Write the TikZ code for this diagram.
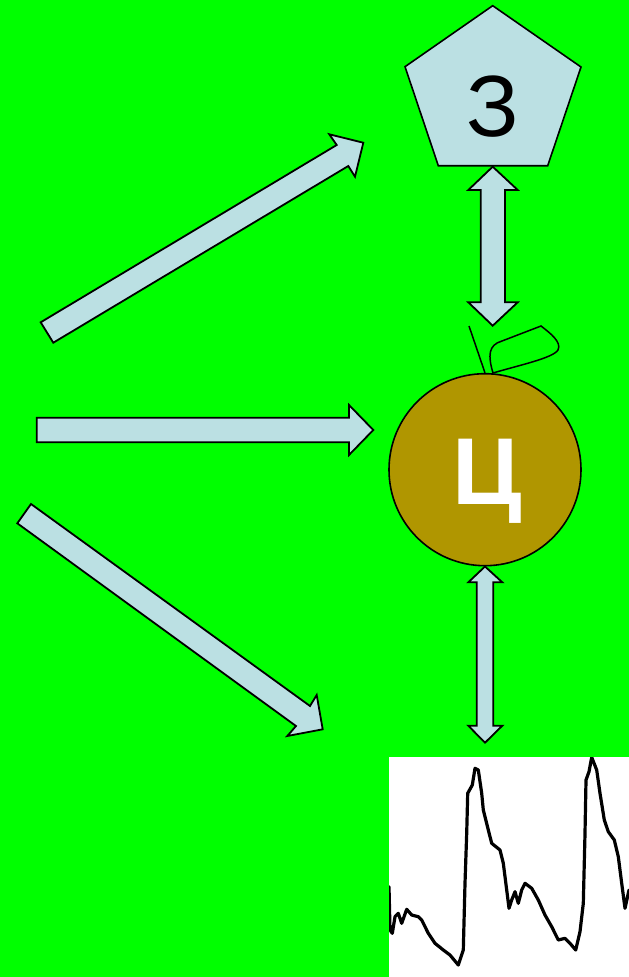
\documentclass[tikz,border=0pt]{standalone}
\usepackage{fontspec}
\setmainfont{Liberation Sans}
\usetikzlibrary{shapes.geometric}
\definecolor{bggreen}{RGB}{0,255,0}
\definecolor{arrowblue}{RGB}{187,224,227}
\definecolor{applegold}{RGB}{176,150,0}
\begin{document}
\begin{tikzpicture}[x=1pt,y=-1pt,
  blockarrow/.style={fill=arrowblue,draw=black,line width=1.8pt,line join=miter},
  outline/.style={draw=black,line width=1.6pt},
  bigletter/.style={font=\fontsize{#1}{#1}\selectfont,inner sep=0pt,anchor=base}]
\useasboundingbox (0,0) rectangle (629,977);
\fill[bggreen] (0,0) rectangle (629,977);

% pentagon "З"
\coordinate (p1) at (492.7,5.7);
\coordinate (p2) at (581,67);
\coordinate (p3) at (547.7,165.7);
\coordinate (p4) at (438.3,165.7);
\coordinate (p5) at (405,66.7);
\draw[outline,fill=arrowblue,line join=miter] (p1) -- (p2) -- (p3) -- (p4) -- (p5) -- cycle;
\node[bigletter=87,text=black] (ze) at (492.7,136.8) {З};

% apple "Ц"
\node[circle,minimum size=192pt,inner sep=0pt,outline,fill=applegold] (apple) at (485,469.7) {};
\node[bigletter=95,text=white,font=\fontsize{95}{95}\selectfont\bfseries] (tse) at (487,504) {Ц};
\coordinate (stemtop) at (469,326);
\draw[line width=1.5pt] (stemtop) -- (apple.north);
\coordinate (leafbase) at (493,373);
\draw[line width=1.5pt] (leafbase) .. controls (488,356) and (488,345) .. (502,341)
  -- (541,326) .. controls (550,333) and (562,342) .. (558,350)
  .. controls (553,358) and (520,365) .. (leafbase);

% waveform panel
\node[fill=white,draw=none,inner sep=0pt,minimum width=240pt,minimum height=220pt,anchor=north west] (wave) at (389,757) {};
\begin{scope}
\clip (wave.north west) rectangle (wave.south east);
\draw[line width=3.2pt,line join=round,line cap=round]
 (389,886.7) -- (390,930) -- (392.3,933.3) -- (395,916.7) -- (398.3,913.3) -- (401.7,923.3)
 -- (406.7,909.3) -- (411.7,915) -- (418.3,916.7) -- (421.7,920) -- (428.3,933.3)
 -- (435,943.3) -- (443.3,950) -- (450,955) -- (458.3,965) -- (463.3,950)
 -- (465,883.3) -- (466.7,833.3) -- (467.7,793.3) -- (472.3,785) -- (475,768.3)
 -- (478.3,770) -- (481.7,793.3) -- (483.3,810) -- (488.3,830) -- (491.7,843.3)
 -- (500,850) -- (503.3,863.3) -- (506.7,890) -- (509,908.3) -- (511.7,900)
 -- (515,891.7) -- (518.3,903.3) -- (521.7,890) -- (525,883.3) -- (531.7,888.3)
 -- (538.3,900) -- (545,915) -- (551.7,926.7) -- (558.3,940) -- (565,938.3)
 -- (570,943.3) -- (575.7,950) -- (580,931.7) -- (583.3,903.3) -- (585,833.3)
 -- (586,780) -- (589,771.7) -- (591.7,757.3) -- (596.7,770) -- (600,793.3)
 -- (604.3,820) -- (608.3,831.7) -- (614.3,840) -- (618.3,856.7) -- (621.7,883.3)
 -- (625,908.3) -- (629,890);
\end{scope}

% upper diagonal arrow
\draw[blockarrow] (40.7,322.3) -- (336.7,145) -- (329.3,134.3) -- (363.3,142.7)
  -- (355,176.7) -- (348.3,166) -- (53.3,342.7) -- cycle;
% middle arrow
\draw[blockarrow] (36.7,417.7) -- (349,417.7) -- (349,405) -- (373.3,430)
  -- (349,455) -- (349,442.3) -- (36.7,442.3) -- cycle;
% lower diagonal arrow
\draw[blockarrow] (31,504) -- (310,706) -- (316.7,695) -- (322.7,729.3)
  -- (287.3,736) -- (296,726) -- (17.3,523.3) -- cycle;

% double arrow pentagon <-> apple
\draw[blockarrow] (492.7,166.7) -- (517.7,190) -- (505,190) -- (505,302.3)
  -- (517.7,302.3) -- (492.7,325.7) -- (468.3,302.3) -- (480.7,302.3)
  -- (480.7,190) -- (468.3,190) -- cycle;
% double arrow apple <-> waveform
\draw[blockarrow] (apple.south) -- (502.3,582.3) -- (493.3,582.3) -- (493.3,725.7)
  -- (502.3,725.7) -- (485,742.7) -- (468.3,725.7) -- (476.7,725.7)
  -- (476.7,582.3) -- (468.3,582.3) -- cycle;
\end{tikzpicture}
\end{document}
